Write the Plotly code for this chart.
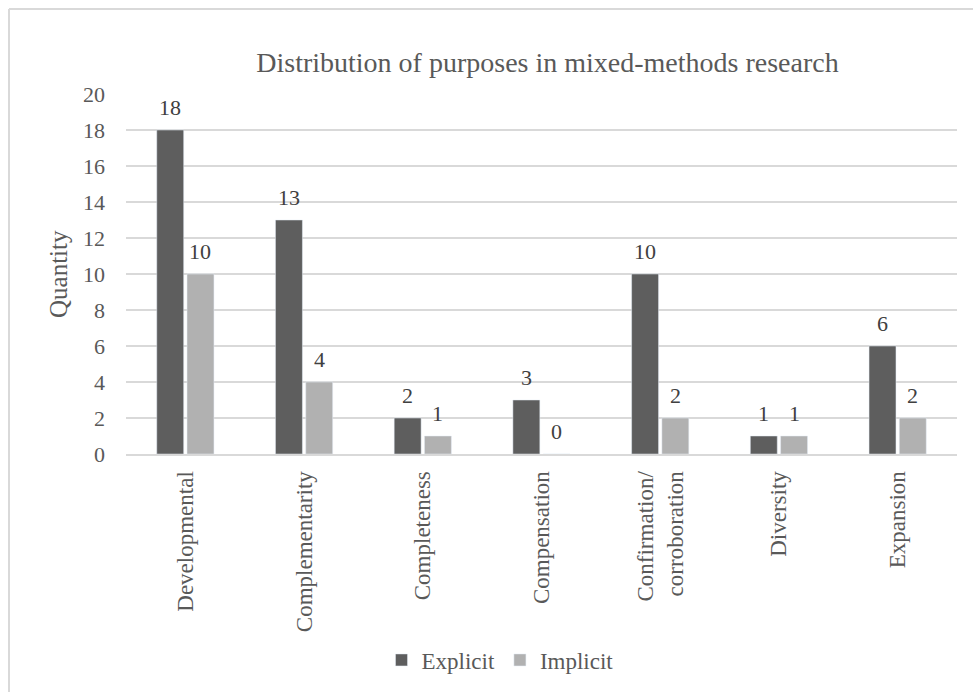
import plotly.graph_objects as go

categories = ["Developmental", "Complementarity", "Completeness", "Compensation",
              "Confirmation/<br>corroboration", "Diversity", "Expansion"]
explicit = [18, 13, 2, 3, 10, 1, 6]
implicit = [10, 4, 1, 0, 2, 1, 2]
y_ticks = [0, 2, 4, 6, 8, 10, 12, 14, 16, 18, 20]

FONT = "Liberation Serif"
TXT = "#595959"
LBL = "#404040"
W, H = 973, 692
PLOT_L, PLOT_R, PLOT_T, PLOT_B = 126, 957, 94, 454
BARGAP, GROUPGAP = 0.49, 0.11
pw, ph = PLOT_R - PLOT_L, PLOT_B - PLOT_T

fig = go.Figure()
fig.add_trace(go.Bar(name="Explicit", x=categories, y=explicit,
                     marker=dict(color="#5e5e5e")))
fig.add_trace(go.Bar(name="Implicit", x=categories, y=implicit,
                     marker=dict(color="#b1b1b1")))

# data labels above each bar (offset sideways by half a bar slot)
cat_w = pw / len(categories)
slot = cat_w * (1 - BARGAP) / 2
for series, sign in ((explicit, -1), (implicit, 1)):
    for c, v in zip(categories, series):
        fig.add_annotation(x=c, y=v, text=str(v), showarrow=False,
                           xanchor="center", yanchor="middle",
                           xshift=sign * slot / 2, yshift=23,
                           font=dict(family=FONT, size=22, color=LBL))

fig.update_layout(
    width=W, height=H,
    margin=dict(l=PLOT_L, r=W - PLOT_R, t=PLOT_T, b=H - PLOT_B, autoexpand=False),
    paper_bgcolor="white", plot_bgcolor="white",
    font=dict(family=FONT, color=TXT, size=22),
    barmode="group", bargap=BARGAP, bargroupgap=GROUPGAP,
    title=dict(text="Distribution of purposes in mixed-methods research",
               x=547.5 / W, xanchor="center", y=1 - 62 / H, yanchor="middle",
               yref="container", xref="container",
               font=dict(family=FONT, size=28, color=TXT)),
    legend=dict(orientation="h", x=(500 - PLOT_L) / pw, xanchor="center",
                y=(PLOT_B - 660) / ph, yanchor="middle",
                font=dict(family=FONT, size=23, color=TXT),
                itemwidth=30, tracegroupgap=0),
    showlegend=True,
)

fig.update_yaxes(
    range=[0, 20], tickvals=y_ticks, ticktext=[str(v) for v in y_ticks],
    showgrid=True, gridcolor="#d9d9d9", gridwidth=2,
    zeroline=False, showline=False, ticks="", automargin=False,
    ticklabelstandoff=20,
    tickfont=dict(family=FONT, size=22, color=TXT),
)
fig.update_xaxes(
    tickangle=-90, ticks="", showline=True, linecolor="#d9d9d9", linewidth=2,
    ticklabelstandoff=6, automargin=False,
    tickfont=dict(family=FONT, size=23, color=TXT),
)

fig.add_annotation(
    text="Quantity", xref="paper", yref="paper",
    x=(58 - PLOT_L) / pw, y=(PLOT_B - 274) / ph,
    xanchor="center", yanchor="middle", textangle=-90, showarrow=False,
    font=dict(family=FONT, size=25, color=TXT),
)

# chart frame (left and top edges visible)
fig.add_shape(type="line", xref="paper", yref="paper",
              x0=(9 - PLOT_L) / pw, x1=(9 - PLOT_L) / pw,
              y0=(PLOT_B - 9) / ph, y1=(PLOT_B - 700) / ph,
              line=dict(color="#d9d9d9", width=2))
fig.add_shape(type="line", xref="paper", yref="paper",
              x0=(9 - PLOT_L) / pw, x1=(980 - PLOT_L) / pw,
              y0=(PLOT_B - 9) / ph, y1=(PLOT_B - 9) / ph,
              line=dict(color="#d9d9d9", width=2))

fig.write_html("out.html")
